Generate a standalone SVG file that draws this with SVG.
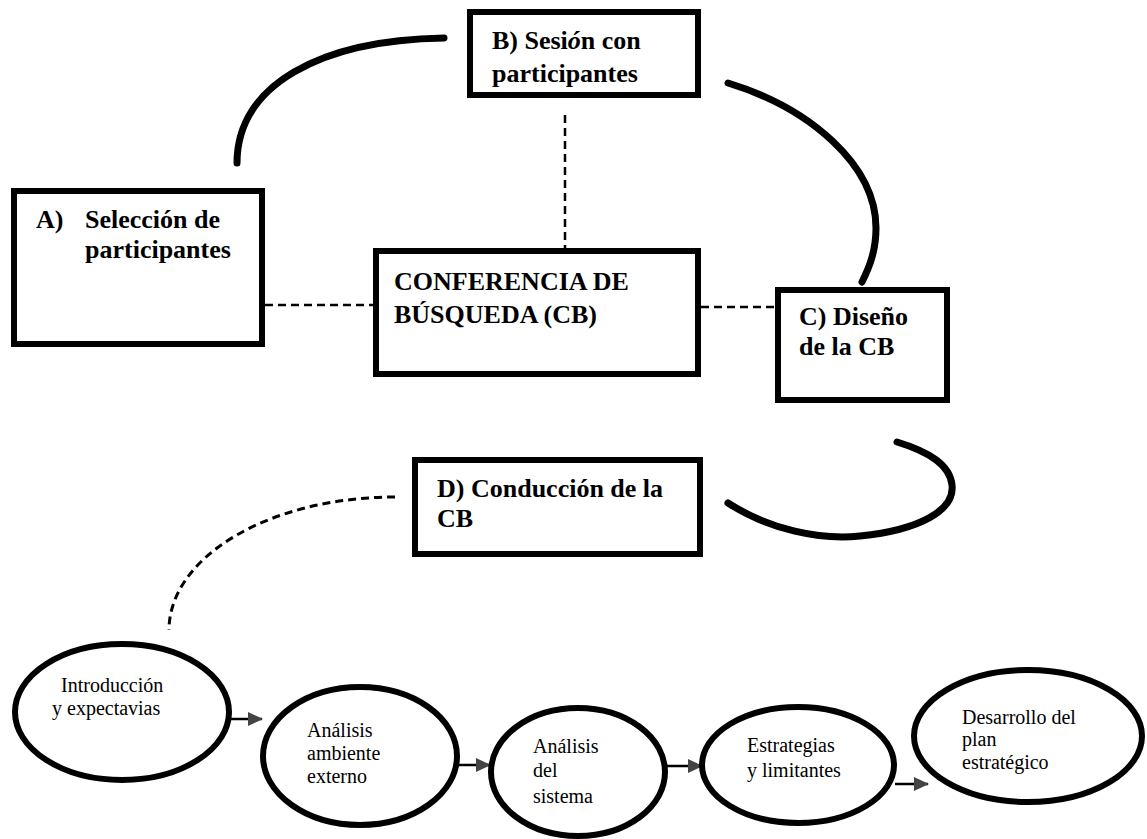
<svg xmlns="http://www.w3.org/2000/svg" width="1147" height="839" viewBox="0 0 1147 839">
<style>
.box{fill:#fff;stroke:#000;stroke-width:6}
.ell{fill:#fff;stroke:#000;stroke-width:6}
.bt{font-family:"Liberation Serif","Times New Roman",serif;font-weight:bold;font-size:26px;fill:#000}
.et{font-family:"Liberation Serif","Times New Roman",serif;font-size:20px;fill:#000}
.arc{fill:none;stroke:#000;stroke-width:7;stroke-linecap:round}
.dash{fill:none;stroke:#000;stroke-width:2.5;stroke-dasharray:8 5}
.arr{fill:none;stroke:#000;stroke-width:2.5;marker-end:url(#ah)}
</style>
<defs>
<marker id="ah" markerUnits="userSpaceOnUse" markerWidth="16" markerHeight="14" refX="14" refY="7" orient="auto">
<path d="M0,0 L15,7 L0,14 Z" fill="#444"/>
</marker>
</defs>
<rect width="1147" height="839" fill="#fff"/>
<g id="connectors">
<path class="arc" d="M237,163 C237,85 320,40 444,38"/>
<path class="arc" d="M728,83 C810,108 876,165 876,228 C876,250 870,266 862,282"/>
<path class="arc" d="M728,503 C770,530 820,540 860,536 C920,530 955,510 952,485 C950,465 930,452 897,442"/>
<line class="dash" x1="565" y1="115" x2="565" y2="248"/>
<line class="dash" x1="265" y1="305" x2="373" y2="305"/>
<line class="dash" x1="701" y1="307" x2="775" y2="307"/>
<path class="dash" style="stroke-width:3" d="M395,497 A226,133 0 0 0 169,630"/>
<line class="arr" x1="230" y1="719" x2="262" y2="719"/>
<line class="arr" x1="458" y1="765" x2="490" y2="765"/>
<line class="arr" x1="667" y1="766" x2="702" y2="766"/>
<line class="arr" x1="895" y1="784" x2="928" y2="784"/>
</g>
<g id="nodeA">
<rect class="box" x="14" y="191" width="248" height="153"/>
<text class="bt" x="36" y="228">A)</text>
<text class="bt" x="85" y="228">Selección de</text>
<text class="bt" x="85" y="258">participantes</text>
</g>
<g id="nodeB">
<rect class="box" x="470" y="12" width="228" height="83"/>
<text class="bt" x="492" y="49">B) Sesi<tspan font-style="italic">ó</tspan>n con</text>
<text class="bt" x="492" y="82">participantes</text>
</g>
<g id="nodeCenter">
<rect class="box" x="376" y="251" width="322" height="123"/>
<text class="bt" x="394" y="290">CONFERENCIA DE</text>
<text class="bt" x="394" y="323">BÚSQUEDA (CB)</text>
</g>
<g id="nodeC">
<rect class="box" x="778" y="290" width="169" height="110"/>
<text class="bt" x="799" y="325">C) Diseño</text>
<text class="bt" x="799" y="355">de la CB</text>
</g>
<g id="nodeD">
<rect class="box" x="415" y="460" width="285" height="94"/>
<text class="bt" x="437" y="497">D) Conducción de la</text>
<text class="bt" x="437" y="527">CB</text>
</g>
<g id="step1">
<ellipse class="ell" cx="122" cy="712" rx="107" ry="68"/>
<text class="et" x="61" y="692">Introducción</text>
<text class="et" x="52" y="715">y expectavias</text>
</g>
<g id="step2">
<ellipse class="ell" cx="360" cy="756" rx="97" ry="69"/>
<text class="et" x="307" y="737">Análisis</text>
<text class="et" x="307" y="760">ambiente</text>
<text class="et" x="307" y="783">externo</text>
</g>
<g id="step3">
<ellipse class="ell" cx="578" cy="772" rx="87" ry="64"/>
<text class="et" x="533" y="753">Análisis</text>
<text class="et" x="533" y="777">del</text>
<text class="et" x="533" y="803">sistema</text>
</g>
<g id="step4">
<ellipse class="ell" cx="798" cy="765" rx="96" ry="58"/>
<text class="et" x="747" y="752">Estrategias</text>
<text class="et" x="747" y="777">y limitantes</text>
</g>
<g id="step5">
<ellipse class="ell" cx="1028" cy="736" rx="114" ry="66"/>
<text class="et" x="962" y="724">Desarrollo del</text>
<text class="et" x="962" y="746">plan</text>
<text class="et" x="962" y="769">estratégico</text>
</g>
</svg>
